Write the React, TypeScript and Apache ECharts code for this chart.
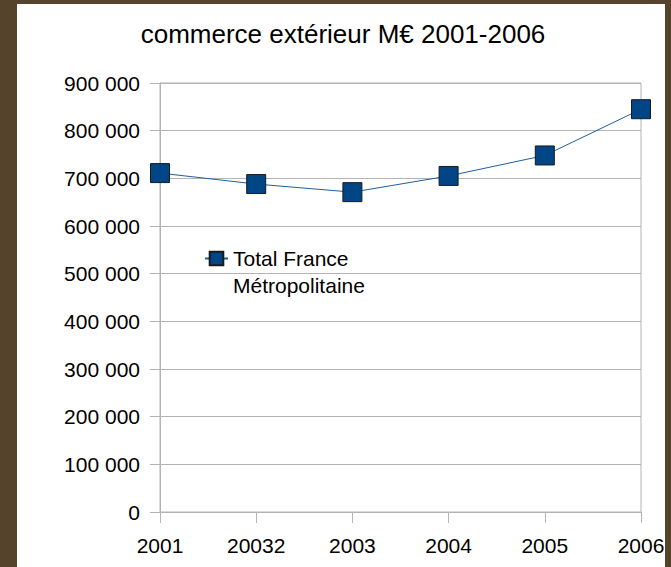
import React, { useEffect, useRef } from "react";
import * as echarts from "echarts";

const titleText = "commerce extérieur M€ 2001-2006";
const categories = ["2001", "20032", "2003", "2004", "2005", "2006"];
const seriesName = "Total France\nMétropolitaine";
const values = [711000, 688000, 671000, 705000, 748000, 845000];
const yMin = 0;
const yMax = 900000;
const yInterval = 100000;

const FONT = "'Liberation Sans', Arial, sans-serif";
const GRID_COLOR = "#b3b3b3";

export default function App() {
  const ref = useRef<HTMLDivElement>(null);
  useEffect(() => {
    if (!ref.current) return;
    const chart = echarts.init(ref.current, null, { renderer: "svg" });
    chart.setOption({
      animation: false,
      backgroundColor: "#56432b",
      graphic: [
        {
          type: "rect",
          z: -10,
          silent: true,
          shape: { x: 17, y: 4, width: 648, height: 570 },
          style: { fill: "#ffffff" },
        },
      ],
      title: {
        text: titleText,
        left: 343,
        top: 21,
        textAlign: "center",
        padding: 0,
        textStyle: { fontFamily: FONT, fontSize: 26, fontWeight: "normal", color: "#000" },
      },
      legend: {
        left: 204,
        top: 218,
        padding: 0,
        itemWidth: 23,
        itemHeight: 17,
        data: [seriesName],
        formatter: (name: string) => "\n" + name,
        textStyle: {
          fontFamily: FONT,
          fontSize: 21,
          color: "#000",
          lineHeight: 27,
        },
      },
      grid: {
        left: 160,
        top: 83,
        width: 481,
        height: 429,
        show: true,
        borderColor: GRID_COLOR,
        borderWidth: 1,
        backgroundColor: "transparent",
      },
      xAxis: {
        type: "category",
        data: categories,
        boundaryGap: false,
        axisLine: { lineStyle: { color: GRID_COLOR, width: 1 } },
        axisTick: { show: true, inside: false, length: 11, lineStyle: { color: GRID_COLOR } },
        axisLabel: { color: "#000", fontFamily: FONT, fontSize: 21, margin: 23 },
        splitLine: { show: false },
      },
      yAxis: {
        type: "value",
        min: yMin,
        max: yMax,
        interval: yInterval,
        axisLine: { show: true, lineStyle: { color: GRID_COLOR, width: 1 } },
        axisTick: { show: true, inside: false, length: 10, lineStyle: { color: GRID_COLOR } },
        axisLabel: {
          color: "#000",
          fontFamily: FONT,
          fontSize: 21,
          margin: 20,
          formatter: (v: number) => String(v).replace(/\B(?=(\d{3})+(?!\d))/g, " "),
        },
        splitLine: { show: true, lineStyle: { color: GRID_COLOR, width: 1 } },
      },
      series: [
        {
          name: seriesName,
          type: "line",
          data: values,
          symbol: "rect",
          symbolSize: 19,
          lineStyle: { color: "#1f5e9e", width: 1 },
          itemStyle: { color: "#004586", borderColor: "#1a1a1a", borderWidth: 1 },
        },
      ],
    });
    return () => chart.dispose();
  }, []);
  return (
    <div
      ref={ref}
      style={{ position: "fixed", left: 0, top: 0, width: 671, height: 567 }}
    />
  );
}
